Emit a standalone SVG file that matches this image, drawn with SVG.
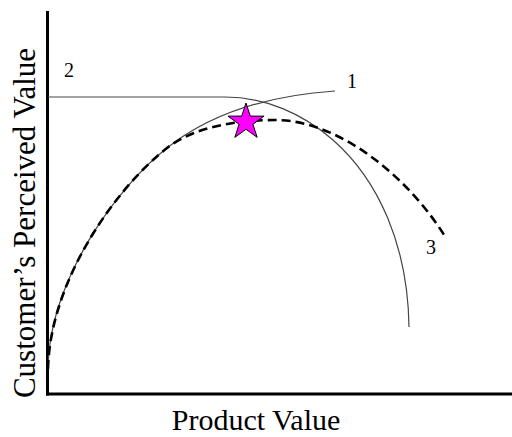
<svg xmlns="http://www.w3.org/2000/svg" width="512" height="437" viewBox="0 0 512 437">
<style>
.axis{stroke:#000;stroke-width:3;fill:none}
.curve{stroke:#444;stroke-width:1.2;fill:none}
.dash{stroke:#000;stroke-width:2.6;fill:none;stroke-dasharray:9 5}
.lbl{font-family:"Liberation Serif","Times New Roman",serif;fill:#000}
.num{font-size:20px}
.title{font-size:30px}
.ytitle{font-size:31px}
</style>
<rect width="512" height="437" fill="#fff"/>
<g id="axes">
<line class="axis" x1="47.5" y1="11" x2="47.5" y2="395.5"/>
<line class="axis" x1="46" y1="394" x2="512" y2="394"/>
</g>
<g id="connectors">
<path id="curve1" class="curve" d="M48,367 C50,280 116,188 167,148 C213.8,110.8 275,95 335,91"/>
<path id="curve2" class="curve" d="M48,97 L225,97 C265,97 303,113.6 333,140 C378,179.6 408,245 409,327"/>
<path id="curve3" class="dash" d="M48,369 C50,280 116,188 167,148 C194.3,126.3 240,120 275,120 C340,120 409.6,178.5 446,238"/>
</g>
<g id="star">
<polygon points="246,103 250.29,116.09 264.07,116.13 252.94,124.26 257.17,137.37 246,129.3 234.83,137.37 239.06,124.26 227.93,116.13 241.71,116.09" fill="#ff00ff" stroke="#000" stroke-width="1"/>
</g>
<g id="label1"><text class="lbl num" x="347" y="88">1</text></g>
<g id="label2"><text class="lbl num" x="64" y="77">2</text></g>
<g id="label3"><text class="lbl num" x="426" y="254">3</text></g>
<g id="xlabel"><text class="lbl title" x="256" y="430" text-anchor="middle">Product Value</text></g>
<g id="ylabel"><text class="lbl ytitle" transform="translate(35,223) rotate(-90)" text-anchor="middle">Customer’s Perceived Value</text></g>
</svg>
